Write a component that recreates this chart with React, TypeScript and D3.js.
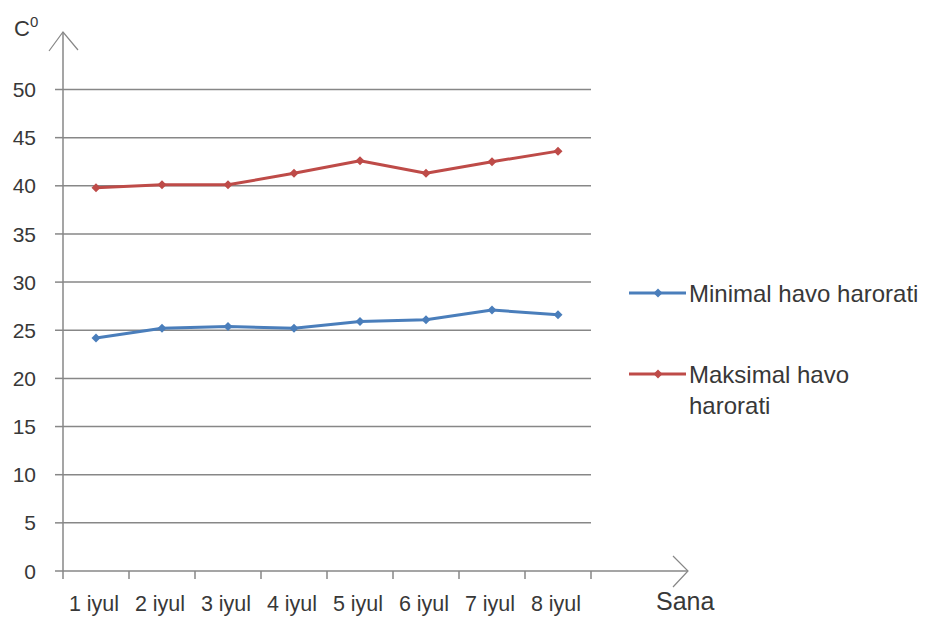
import React from "react";
import * as d3 from "d3";

const categories = ["1 iyul", "2 iyul", "3 iyul", "4 iyul", "5 iyul", "6 iyul", "7 iyul", "8 iyul"];
const minTemps = [24.2, 25.2, 25.4, 25.2, 25.9, 26.1, 27.1, 26.6];
const maxTemps = [39.8, 40.1, 40.1, 41.3, 42.6, 41.3, 42.5, 43.6];
const yTicks = [0, 5, 10, 15, 20, 25, 30, 35, 40, 45, 50];
const seriesNames = ["Minimal havo harorati", "Maksimal havo harorati"];
const yAxisTitle = "C";
const yAxisSup = "0";
const xAxisTitle = "Sana";

const W = 929;
const H = 618;
const left = 63;
const plotRight = 591;
const y0 = 571;
const y50 = 89.5;
const BLUE = "#4a7ebb";
const RED = "#be4b48";
const AXIS = "#878787";
const TEXT = "#383838";
const FONT = "'Liberation Sans', Arial, sans-serif";

function Diamond({ x, y, color }: { x: number; y: number; color: string }) {
  const r = 4.5;
  return <path d={`M${x},${y - r}L${x + r},${y}L${x},${y + r}L${x - r},${y}Z`} fill={color} />;
}

export default function App() {
  const x = d3.scaleBand<string>().domain(categories).range([left, plotRight]).padding(0);
  const y = d3.scaleLinear().domain([0, 50]).range([y0, y50]);
  const cx = (c: string) => (x(c) as number) + x.bandwidth() / 2;
  const line = d3
    .line<number>()
    .x((_, i) => cx(categories[i]))
    .y((d) => y(d));
  const tickXs = [...categories.map((c) => x(c) as number), plotRight];
  const series = [
    { name: seriesNames[0], values: minTemps, color: BLUE },
    { name: seriesNames[1], values: maxTemps, color: RED },
  ];

  return (
    <svg width={W} height={H} style={{ position: "absolute", left: 0, top: 0, background: "#fff" }} fontFamily={FONT}>
      <rect width={W} height={H} fill="#fff" />
      {/* gridlines */}
      {yTicks.filter((t) => t > 0).map((t) => (
        <line key={t} x1={left} x2={plotRight} y1={y(t)} y2={y(t)} stroke={AXIS} strokeWidth={1.5} />
      ))}
      {/* y tick marks & labels */}
      {yTicks.map((t) => (
        <g key={"yt" + t}>
          <line x1={left - 8} x2={left} y1={y(t)} y2={y(t)} stroke={AXIS} strokeWidth={1.5} />
          <text x={36} y={y(t)} dy="0.36em" textAnchor="end" fontSize={21} fill={TEXT}>
            {t}
          </text>
        </g>
      ))}
      {/* y axis with arrow */}
      <line x1={left} x2={left} y1={y0} y2={32} stroke={AXIS} strokeWidth={1.5} />
      <path d={`M${left - 14},51L${left},32L${left + 15},50`} fill="none" stroke={AXIS} strokeWidth={1.2} />
      {/* x axis with arrow */}
      <line x1={left} x2={688} y1={y0} y2={y0} stroke={AXIS} strokeWidth={1.5} />
      <path d={`M673,556L688,${y0}L673,587`} fill="none" stroke={AXIS} strokeWidth={1.2} />
      {tickXs.map((tx, i) => (
        <line key={"xt" + i} x1={tx} x2={tx} y1={y0} y2={y0 + 8} stroke={AXIS} strokeWidth={1.5} />
      ))}
      {categories.map((c) => (
        <text key={c} x={cx(c) - 2} y={611} textAnchor="middle" fontSize={21.5} fill={TEXT}>
          {c}
        </text>
      ))}
      {/* axis titles */}
      <text x={14} y={36} fontSize={22} fill={TEXT}>
        {yAxisTitle}
        <tspan dy={-9} fontSize={15}>{yAxisSup}</tspan>
      </text>
      <text x={656} y={610} fontSize={25} fill={TEXT}>
        {xAxisTitle}
      </text>
      {/* series */}
      {series.map((s) => (
        <g key={s.name}>
          <path d={line(s.values) || ""} fill="none" stroke={s.color} strokeWidth={3} strokeLinejoin="round" />
          {s.values.map((v, i) => (
            <Diamond key={i} x={cx(categories[i])} y={y(v)} color={s.color} />
          ))}
        </g>
      ))}
      {/* legend */}
      <g>
        <line x1={629} x2={686} y1={293} y2={293} stroke={BLUE} strokeWidth={3} />
        <Diamond x={658} y={293} color={BLUE} />
        <text x={689} y={302} fontSize={24} fill={TEXT}>
          {seriesNames[0]}
        </text>
        <line x1={629} x2={686} y1={374} y2={374} stroke={RED} strokeWidth={3} />
        <Diamond x={658} y={374} color={RED} />
        <text x={689} y={383} fontSize={24} fill={TEXT}>
          <tspan x={689}>Maksimal havo</tspan>
          <tspan x={689} dy={31}>harorati</tspan>
        </text>
      </g>
    </svg>
  );
}
